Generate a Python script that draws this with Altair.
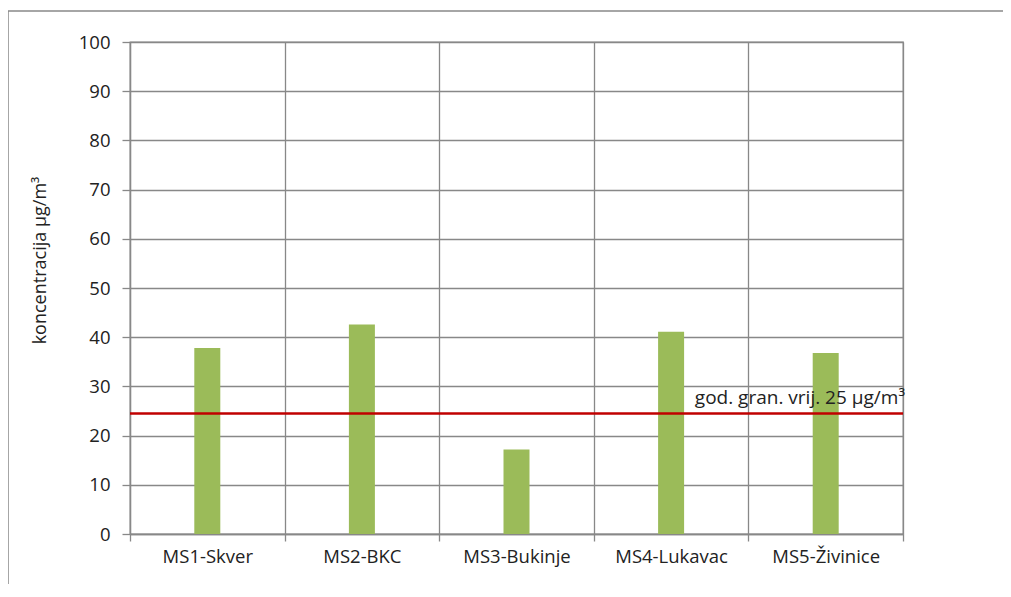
import altair as alt
import pandas as pd

stations = ["MS1-Skver", "MS2-BKC", "MS3-Bukinje", "MS4-Lukavac", "MS5-Živinice"]
values = [37.8, 42.6, 17.2, 41.1, 36.8]
limit_value = [24.5]
limit_label = ["god. gran. vrij. 25 µg/m³"]
y_title = "koncentracija µg/m³"

df = pd.DataFrame({"station": stations, "value": values})
lim = pd.DataFrame({"y": limit_value, "label": limit_label})

W, H = 773, 492
FONT = "Open Sans"
FS = 18.5

x_enc = alt.X("station:N", sort=stations, title=None,
              scale=alt.Scale(paddingInner=0, paddingOuter=0),
              axis=alt.Axis(labelAngle=0, tickBand="extent", grid=True, gridColor="#888888",
                            gridWidth=1.3, tickColor="#888888", tickSize=7, tickWidth=1.3,
                            domainColor="#888888", domainWidth=1.3, labelFont=FONT,
                            labelFontSize=FS, labelColor="#222222", labelPadding=6))
y_enc = alt.Y("value:Q", title=y_title,
              scale=alt.Scale(domain=[0, 100], nice=False),
              axis=alt.Axis(values=list(range(0, 101, 10)), grid=True, gridColor="#888888",
                            gridWidth=1.3, tickColor="#888888", tickSize=8, tickWidth=1.3,
                            domainColor="#888888", domainWidth=1.3, labelFont=FONT,
                            labelFontSize=FS, labelColor="#222222", labelPadding=12,
                            titleFont=FONT, titleFontSize=18, titleFontWeight="normal",
                            titleColor="#222222", titlePadding=29, titleY=218))

bars = alt.Chart(df).mark_bar(color="#9bbb59", width=26).encode(x=x_enc, y=y_enc)

rule = alt.Chart(lim).mark_rule(color="#c00000", strokeWidth=2.5).encode(y="y:Q")
label = alt.Chart(lim).mark_text(align="right", baseline="alphabetic", dy=-9, dx=2,
                                 font=FONT, fontSize=19, color="#222222").encode(
    y="y:Q", x=alt.value(W), text="label:N")

frame_left = alt.Chart(lim).mark_rule(color="#888888", strokeWidth=1.5).encode(
    x=alt.value(-122), y=alt.value(-31), y2=alt.value(H + 80))
frame_top = alt.Chart(lim).mark_rule(color="#888888", strokeWidth=1.5).encode(
    x=alt.value(-122), x2=alt.value(W + 200), y=alt.value(-31))

chart = alt.layer(bars, rule, label, frame_left, frame_top).properties(
    width=W, height=H,
    autosize=alt.AutoSizeParams(type="none"),
    padding={"left": 122, "top": 34, "right": 100, "bottom": 50},
).configure_view(stroke="#888888", strokeWidth=1.3)

chart.save("out.html", embed_options={"renderer": "svg", "actions": False})
